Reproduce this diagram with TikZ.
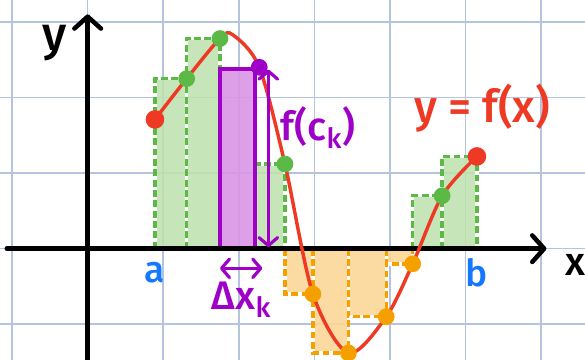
\documentclass[tikz,border=0pt]{standalone}
\usepackage{fontspec}
\setmainfont{Fira Sans}[BoldFont={* Medium}]
\usetikzlibrary{arrows.meta}

\definecolor{gridblue}{RGB}{180,196,222}
\definecolor{curvered}{RGB}{238,58,36}
\definecolor{sumgreen}{RGB}{92,185,70}
\definecolor{sumgreenfill}{RGB}{190,226,176}
\definecolor{sumorange}{RGB}{246,160,0}
\definecolor{sumorangefill}{RGB}{252,214,150}
\definecolor{samplepurple}{RGB}{158,0,200}
\definecolor{samplepurplefill}{RGB}{217,150,230}
\definecolor{endblue}{RGB}{20,120,255}

\begin{document}
\begin{tikzpicture}[
  gridline/.style={draw=gridblue, line width=0.6pt},
  axisline/.style={line width=1.7pt, line cap=round, -{Straight Barb[length=4.5pt, width=10pt, round]}},
  posbox/.style={fill=sumgreenfill, fill opacity=0.88, draw=white, line width=1.3pt, postaction={draw=sumgreen, dash pattern=on 2.6pt off 1.3pt}},
  negbox/.style={fill=sumorangefill, fill opacity=0.88, draw=white, line width=1.3pt, postaction={draw=sumorange, dash pattern=on 2.6pt off 1.3pt}},
  samplebox/.style={fill=samplepurplefill, fill opacity=0.9, draw=samplepurple, line width=1.5pt},
  samplearrow/.style={draw=samplepurple, line width=1.2pt, line cap=round, {Straight Barb[length=3pt, width=7pt, round]}-{Straight Barb[length=3pt, width=7pt, round]}},
  dot/.style={circle, inner sep=0pt, minimum size=6.3pt},
  enddot/.style={dot, fill=curvered, minimum size=7pt},
  every node/.style={font=\bfseries\fontsize{14}{14}\selectfont}
]

\useasboundingbox (-1.16,-1.47) rectangle (6.58,3.29);
\draw[gridline] (-1.16,-1.47) grid (6.58,3.29);

\coordinate (o) at (0,0);
\coordinate (p0) at (0.89,1.71);
\coordinate (p1) at (1.31,2.25);
\coordinate (p2) at (1.75,2.78);
\coordinate (p3) at (2.22,2.38);
\coordinate (p4) at (2.61,1.12);
\coordinate (p5) at (2.98,-0.6);
\coordinate (p6) at (3.45,-1.38);
\coordinate (p7) at (3.95,-0.9);
\coordinate (p8) at (4.30,-0.2);
\coordinate (p9) at (4.69,0.70);
\coordinate (p10) at (5.15,1.22);
\coordinate (ck) at (2.27,2.40);

\foreach \i/\s in {1/posbox,2/posbox,4/posbox,5/negbox,6/negbox,7/negbox,8/negbox,9/posbox,10/posbox} {
    \path[\s] (p\the\numexpr\i-1\relax |- o) rectangle (p\i);
}
\path[samplebox] (p2 |- o) rectangle (p3);

\coordinate (xl) at (-1.07,0);
\coordinate (xr) at (6.07,0);
\coordinate (yb) at (0,-1.6);
\coordinate (yt) at (0,3.1);
\draw[axisline] (xl) -- (xr);
\draw[axisline] (yb) -- (yt);

\draw[curvered, line width=1.3pt] plot[smooth] coordinates {(p0) (p1) (p2) (1.92,2.83) (ck) (p4) (p5) (p6) (p7) (p8) (p9) (p10)};

\coordinate (fkt) at (2.39,2.37);
\coordinate (fkb) at (2.39,0.02);
\coordinate (dxl) at (1.75,-0.26);
\coordinate (dxr) at (2.31,-0.26);
\draw[samplearrow] (fkt) -- (fkb);
\draw[samplearrow] (dxl) -- (dxr);

\foreach \i in {1,2,4,9} {
    \node[dot, fill=sumgreen] (d\i) at (p\i) {};
}
\foreach \i in {5,...,8} {
    \node[dot, fill=sumorange] (d\i) at (p\i) {};
}
\node[enddot] (d0) at (p0) {};
\node[enddot] (d10) at (p10) {};
\node[dot, fill=samplepurple] (dk) at (ck) {};

\node[font=\bfseries\fontsize{18}{18}\selectfont] (ly) at (-0.44,2.72) {y};
\node[font=\bfseries\fontsize{15}{15}\selectfont] (lx) at (6.45,-0.22) {x};
\node[text=endblue] (la) at (0.89,-0.32) {a};
\node[text=endblue] (lb) at (5.14,-0.32) {b};
\node[text=curvered, font=\bfseries\fontsize{17}{17}\selectfont] (lf) at (5.22,1.86) {y = f(x)};
\node[text=samplepurple, font=\bfseries\fontsize{15}{15}\selectfont] (lfc) at (3.05,1.60) {f(c\textsubscript{k})};
\node[text=samplepurple, font=\bfseries\fontsize{15}{15}\selectfont] (ldx) at (2.04,-0.67) {Δx\textsubscript{k}};

\end{tikzpicture}
\end{document}
